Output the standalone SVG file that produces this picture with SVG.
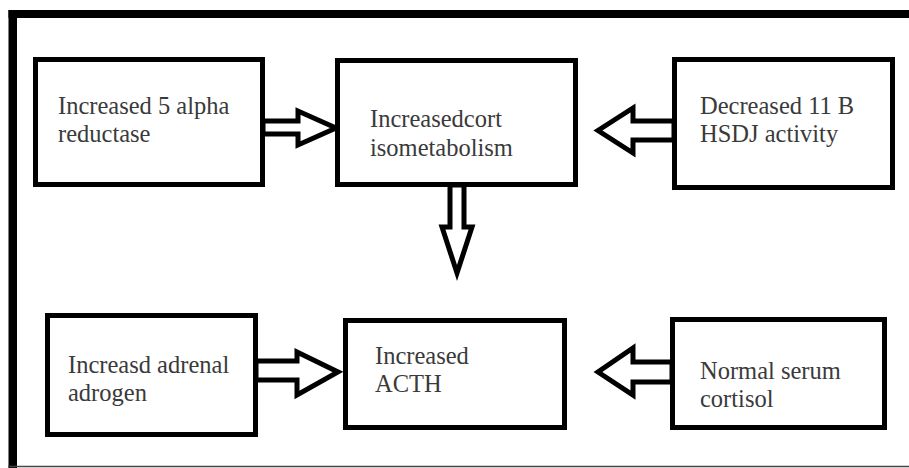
<svg xmlns="http://www.w3.org/2000/svg" width="909" height="468" viewBox="0 0 909 468">
<style>
.box{fill:#fff;stroke:#000;stroke-width:5}
.arr{fill:#fff;stroke:#000;stroke-width:5;stroke-linejoin:miter;stroke-miterlimit:10}
.t{font-family:"Liberation Serif","Times New Roman",serif;font-size:24.5px;fill:#3a3a3a}
</style>
<rect x="0" y="0" width="909" height="468" fill="#fff"/>
<g id="frame">
<rect x="8.5" y="10" width="901" height="8" fill="#000"/>
<rect x="8.5" y="10" width="8.5" height="458" fill="#000"/>
<line x1="8" y1="466.5" x2="909" y2="466.5" stroke="#444" stroke-width="1.5"/>
</g>
<g id="connectors">
<polygon class="arr" points="263,121 298,121 298,111 336,128 298,145 298,134 263,134"/>
<polygon class="arr" points="450,185 450,227 442,227 457,273 472,227 464,227 464,185"/>
<polygon class="arr" points="674,121 633,121 633,108 598,130.5 633,153 633,140 674,140"/>
<polygon class="arr" points="256,361 297,361 297,352 338,372 297,395 297,380 256,380"/>
<polygon class="arr" points="672,362 633,362 633,348 598,372 633,395 633,382 672,382"/>
</g>
<g id="n1">
<rect class="box" x="35.5" y="59.5" width="227" height="125"/>
<text class="t" x="58" y="114">Increased 5 alpha</text>
<text class="t" x="58" y="142">reductase</text>
</g>
<g id="n2">
<rect class="box" x="337.5" y="60.5" width="238" height="124"/>
<text class="t" x="370" y="127">Increasedcort</text>
<text class="t" x="370" y="156">isometabolism</text>
</g>
<g id="n3">
<rect class="box" x="674.5" y="59.5" width="218" height="128"/>
<text class="t" x="700" y="114">Decreased 11 B</text>
<text class="t" x="700" y="142">HSDJ activity</text>
</g>
<g id="n4">
<rect class="box" x="47.5" y="315.5" width="208" height="119"/>
<text class="t" x="68" y="373">Increasd adrenal</text>
<text class="t" x="68" y="401">adrogen</text>
</g>
<g id="n5">
<rect class="box" x="345.5" y="320.5" width="219" height="107"/>
<text class="t" x="375" y="364">Increased</text>
<text class="t" x="375" y="392">ACTH</text>
</g>
<g id="n6">
<rect class="box" x="672.5" y="319.5" width="212" height="108"/>
<text class="t" x="700" y="379">Normal serum</text>
<text class="t" x="700" y="407">cortisol</text>
</g>
</svg>
